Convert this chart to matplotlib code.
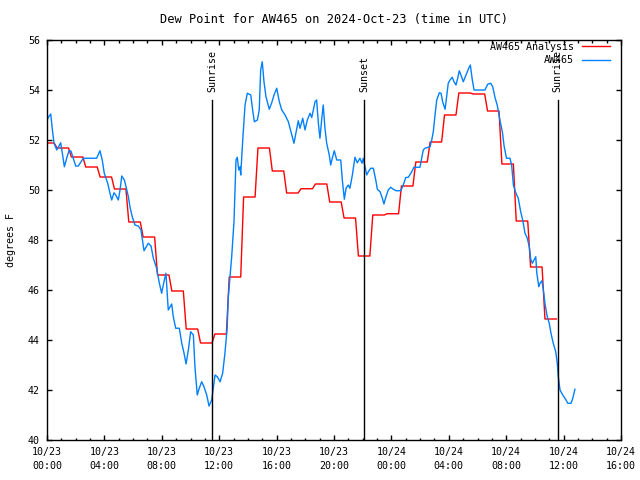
import datetime
import numpy as np
import matplotlib
matplotlib.use("Agg")
import matplotlib.pyplot as plt
from matplotlib.ticker import MultipleLocator, FuncFormatter

plt.rcParams['font.family'] = ['DejaVu Sans Mono']
plt.rcParams['font.size'] = 7.2

start = datetime.datetime(2024, 10, 23, 0, 0)

# analysis: one value per hour, hours since 10/23 00:00 UTC
ana_hours = list(range(0, 36))
ana_vals = [51.88, 51.68, 51.32, 50.92, 50.52, 50.04, 48.72, 48.12, 46.6, 45.96,
            44.44, 43.88, 44.24, 46.52, 49.72, 51.68, 50.76, 49.88, 50.05, 50.24,
            49.52, 48.88, 47.36, 49.0, 49.05, 50.16, 51.12, 51.92, 53.0, 53.88,
            53.84, 53.16, 51.04, 48.76, 46.92, 44.84]

# observations (hours since 10/23 00:00 UTC, deg F)
obs_hours = [0.0, 0.09, 0.26, 0.37, 0.49, 0.68, 0.79, 0.95, 1.07, 1.21,
             1.37, 1.53, 1.67, 1.83, 2.0, 2.18, 2.37, 2.53, 3.46, 3.69,
             3.85, 3.99, 4.23, 4.39, 4.51, 4.67, 4.79, 4.97, 5.09, 5.21,
             5.39, 5.55, 5.67, 5.78, 5.94, 6.13, 6.36, 6.55, 6.76, 7.06,
             7.25, 7.41, 7.64, 7.83, 7.99, 8.15, 8.29, 8.45, 8.69, 8.80,
             8.97, 9.22, 9.39, 9.55, 9.69, 9.85, 10.01, 10.20, 10.31, 10.47,
             10.61, 10.78, 10.94, 11.13, 11.29, 11.48, 11.59, 11.71, 11.87, 12.06,
             12.24, 12.40, 12.56, 12.63, 12.87, 13.03, 13.17, 13.26, 13.36, 13.45,
             13.50, 13.64, 13.80, 13.96, 14.20, 14.33, 14.45, 14.66, 14.79, 14.89,
             15.00, 15.12, 15.26, 15.49, 15.66, 15.82, 16.01, 16.19, 16.36, 16.59,
             16.82, 17.00, 17.21, 17.35, 17.51, 17.63, 17.82, 17.98, 18.14, 18.33,
             18.45, 18.68, 18.79, 18.91, 19.02, 19.14, 19.25, 19.37, 19.49, 19.67,
             19.77, 19.88, 20.02, 20.19, 20.47, 20.58, 20.72, 20.84, 21.00, 21.11,
             21.28, 21.46, 21.62, 21.81, 21.95, 22.04, 22.16, 22.28, 22.39, 22.56,
             22.74, 22.91, 23.02, 23.21, 23.37, 23.48, 23.62, 23.78, 23.95, 24.13,
             24.32, 24.65, 24.83, 25.00, 25.18, 25.42, 25.57, 25.99, 26.11, 26.22,
             26.34, 26.69, 26.81, 26.92, 27.04, 27.16, 27.34, 27.46, 27.57, 27.74,
             27.85, 27.96, 28.08, 28.24, 28.36, 28.50, 28.62, 28.73, 28.87, 29.01,
             29.20, 29.36, 29.50, 29.64, 29.76, 30.52, 30.71, 30.92, 31.06, 31.22,
             31.38, 31.57, 31.74, 31.85, 32.02, 32.26, 32.38, 32.50, 32.68, 32.84,
             33.01, 33.15, 33.31, 33.47, 33.61, 33.71, 33.82, 33.94, 34.06, 34.13,
             34.27, 34.36, 34.49, 34.59, 34.70, 34.86, 35.00, 35.12, 35.28, 35.45,
             35.56, 35.63, 35.75, 35.94, 36.17, 36.29, 36.52, 36.64, 36.79]
obs_vals = [52.77, 52.91, 53.04, 52.43, 51.87, 51.6, 51.71, 51.89, 51.47, 50.93,
            51.27, 51.57, 51.56, 51.27, 50.96, 50.96, 51.13, 51.27, 51.27, 51.57,
            51.2, 50.67, 50.27, 49.87, 49.6, 49.89, 49.8, 49.6, 50.0, 50.56,
            50.4, 50.03, 49.73, 49.33, 48.93, 48.6, 48.56, 48.4, 47.57, 47.87,
            47.76, 47.27, 46.87, 46.27, 45.87, 46.33, 46.67, 45.2, 45.44, 44.93,
            44.47, 44.47, 43.87, 43.47, 43.04, 43.6, 44.33, 44.2, 42.93, 41.8,
            42.07, 42.33, 42.13, 41.8, 41.36, 41.6, 42.07, 42.6, 42.53, 42.33,
            42.67, 43.47, 44.53, 45.68, 47.33, 48.73, 51.2, 51.31, 50.8, 50.93,
            50.6, 52.0, 53.4, 53.87, 53.8, 53.2, 52.73, 52.8, 53.2, 54.8,
            55.13, 54.33, 53.73, 53.23, 53.49, 53.8, 54.07, 53.53, 53.2, 53.0,
            52.73, 52.33, 51.87, 52.29, 52.77, 52.47, 52.87, 52.4, 52.8, 53.07,
            52.9, 53.53, 53.6, 52.67, 52.07, 52.8, 53.4, 52.47, 51.87, 51.4,
            51.0, 51.27, 51.57, 51.2, 51.2, 50.4, 49.63, 50.07, 50.2, 50.07,
            50.6, 51.31, 51.09, 51.27, 51.07, 51.27, 50.93, 50.6, 50.73, 50.87,
            50.87, 50.4, 50.03, 49.93, 49.67, 49.44, 49.73, 50.0, 50.11, 50.03,
            49.97, 49.97, 50.2, 50.5, 50.51, 50.73, 50.91, 50.91, 51.27, 51.6,
            51.67, 51.73, 52.0, 52.33, 53.0, 53.6, 53.89, 53.87, 53.53, 53.23,
            53.73, 54.27, 54.4, 54.51, 54.33, 54.2, 54.47, 54.77, 54.56, 54.33,
            54.6, 54.83, 55.0, 54.4, 54.0, 54.0, 54.23, 54.27, 54.13, 53.7,
            53.38, 52.77, 52.3, 51.77, 51.27, 51.27, 51.0, 50.2, 49.87, 49.67,
            49.13, 48.8, 48.27, 48.07, 47.73, 47.23, 47.07, 47.2, 47.33, 46.69,
            46.13, 46.27, 46.37, 46.0, 45.47, 44.93, 44.67, 44.27, 43.87, 43.53,
            43.07, 42.53, 42.0, 41.8, 41.6, 41.47, 41.47, 41.67, 42.03]

# sun events (hours since 10/23 00:00 UTC)
sun_hours = [11.52, 22.11, 35.59]
sun_labels = ['Sunrise', 'Sunset', 'Sunrise']

fig = plt.figure(figsize=(6.4, 4.8), dpi=100)
ax = fig.add_axes([47 / 640, 40 / 480, 574 / 640, 400 / 480])

# analysis drawn as held hourly values with a short ramp to the next hour
ax_x = np.column_stack([np.array(ana_hours) - 0.3, np.array(ana_hours) + 0.5]).ravel()
ax_y = np.repeat(ana_vals, 2)
ax.plot(ax_x, ax_y, color='#ff0000', lw=1.0, label='AW465 Analysis')
ax.plot(obs_hours, obs_vals, color='#0080ff', lw=1.0, label='AW465')

for h, lab in zip(sun_hours, sun_labels):
    ax.axvline(h, ymin=0, ymax=0.85, color='black', lw=1.0)
    ax.text(h, 0.87, lab, rotation=90, ha='center', va='bottom',
            transform=ax.get_xaxis_transform())

ax.set_xlim(0, 40)
ax.set_ylim(40, 56)
ax.xaxis.set_major_locator(MultipleLocator(4))
ax.xaxis.set_minor_locator(MultipleLocator(1))
ax.yaxis.set_major_locator(MultipleLocator(2))


def fmt_time(x, pos):
    t = start + datetime.timedelta(hours=x)
    return t.strftime('%m/%d\n%H:%M')


ax.xaxis.set_major_formatter(FuncFormatter(fmt_time))
ax.tick_params(which='both', direction='in', top=True, right=True)
ax.tick_params(which='major', length=3.6, width=1.0, pad=5)
ax.tick_params(which='minor', length=1.8, width=1.0)
for lab in ax.get_xticklabels():
    lab.set_linespacing(1.45)
for s in ax.spines.values():
    s.set_linewidth(1.0)

ax.set_ylabel('degrees F', labelpad=9)
ax.set_title('Dew Point for AW465 on 2024-Oct-23 (time in UTC)', pad=12)
ax.legend(loc='upper right', bbox_to_anchor=(0.981, 0.995), frameon=False,
          markerfirst=False, handlelength=2.8, handletextpad=0.8,
          labelspacing=0.35, borderaxespad=0, borderpad=0)

fig.savefig('out.png', dpi=100)
